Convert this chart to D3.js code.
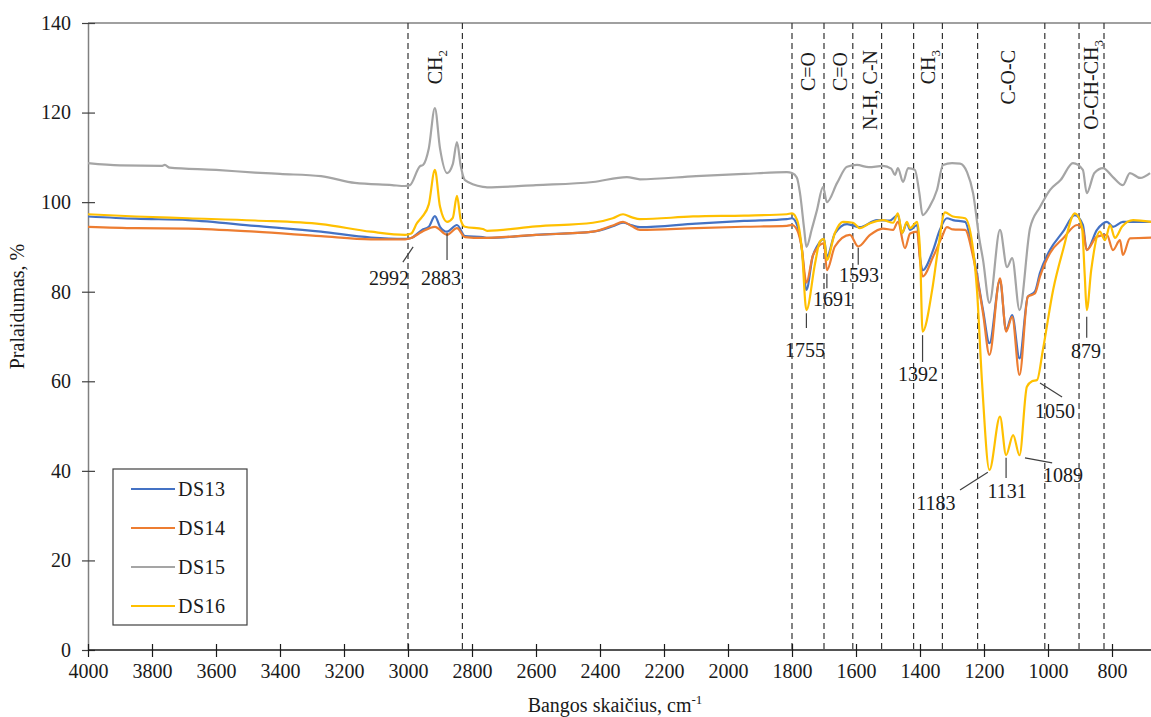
<!DOCTYPE html>
<html>
<head>
<meta charset="utf-8">
<script src="https://cdn.jsdelivr.net/npm/d3@7"></script>
<style>
  body { margin: 0; background: #fff; }
  svg, svg text { font-family: "Liberation Serif", "Times New Roman", serif; }
</style>
</head>
<body>
<div id="chart"></div>
<script>
// Spektrai: [bangos skaičius, pralaidumas]
const ds13 = [[4000,96.8],[3850,96.3],[3687,96.0],[3478,94.7],[3272,93.4],[3116,92.1],[3009,91.8],[2990,92.0],[2956,93.8],[2935,94.5],[2916,96.9],[2900,94.5],[2878,93.4],[2847,94.9],[2822,92.4],[2766,92.2],[2753,92.0],[2600,92.7],[2422,93.4],[2360,94.6],[2328,95.4],[2300,94.8],[2275,94.4],[2100,95.2],[1950,95.8],[1816,96.2],[1800,96.4],[1784,94.9],[1770,90],[1755,80.4],[1735,88],[1722,90.1],[1700,91.8],[1691,87.8],[1666,93.0],[1628,95.1],[1588,94.4],[1534,96.0],[1494,95.9],[1469,97.1],[1456,93.1],[1441,95.3],[1431,93.8],[1409,94.9],[1400,87.8],[1392,84.8],[1359,89.3],[1338,93.8],[1316,96.4],[1297,96.0],[1259,95.6],[1234,88.6],[1203,75.9],[1183,68.5],[1150,82.6],[1131,71.4],[1112,74.8],[1089,65.1],[1063,78.9],[1041,80.0],[1025,84.2],[994,89.3],[953,93.4],[916,97.1],[891,94.9],[879,89.3],[847,93.8],[816,95.6],[797,94.5],[766,95.6],[678,95.6]];

const ds14 = [[4000,94.5],[3850,94.2],[3687,94.1],[3478,93.4],[3272,92.4],[3116,91.7],[3009,91.7],[2990,92.0],[2956,93.4],[2916,94.5],[2878,92.7],[2847,94.2],[2822,92.2],[2766,92.0],[2600,92.7],[2422,93.4],[2360,94.8],[2328,95.6],[2300,94.6],[2275,93.8],[2100,94.2],[1950,94.5],[1816,94.7],[1800,94.9],[1784,93.8],[1770,90],[1755,82],[1735,88],[1722,89.7],[1700,90.8],[1691,84.8],[1666,90.1],[1619,92.7],[1593,90.1],[1556,92.7],[1516,94.1],[1484,93.8],[1469,95.6],[1447,89.7],[1431,93.0],[1409,93.4],[1400,87.1],[1392,83.4],[1359,87.8],[1331,92.3],[1316,94.4],[1297,93.9],[1259,93.8],[1234,87.8],[1203,75.2],[1183,65.9],[1150,83.0],[1131,71.1],[1112,74.4],[1089,61.4],[1063,78.9],[1041,79.6],[1025,83.4],[994,88.6],[953,91.9],[909,94.9],[891,93.8],[879,89.3],[847,92.3],[816,92.7],[797,89.3],[775,91.5],[766,88.2],[744,91.9],[678,92.1]];

const ds15 = [[4000,108.7],[3900,108.2],[3770,108.1],[3760,108.3],[3745,107.7],[3600,107.2],[3478,106.6],[3400,106.3],[3272,105.8],[3166,104.3],[3050,103.8],[3009,103.6],[2994,103.8],[2963,108.0],[2953,108.3],[2935,112],[2916,121.0],[2900,112],[2878,106.5],[2860,108.5],[2847,113.4],[2835,108],[2822,104.9],[2766,103.4],[2753,103.3],[2600,103.8],[2422,104.5],[2316,105.6],[2275,105.1],[2100,105.8],[1950,106.3],[1816,106.7],[1800,106.5],[1785,105.5],[1775,102],[1762,94],[1755,90.0],[1738,94],[1722,98.2],[1703,103.4],[1691,100.0],[1659,104.3],[1628,107.9],[1597,108.3],[1560,107.8],[1516,108.1],[1490,107.5],[1478,106.1],[1469,107.6],[1453,104.5],[1437,107.6],[1416,107.2],[1402,102],[1392,97.1],[1370,99],[1347,102.7],[1328,108.3],[1300,108.7],[1275,108.6],[1253,106.7],[1234,102],[1215,92],[1203,87.1],[1183,77.5],[1150,93.8],[1128,85.5],[1112,87.5],[1089,75.9],[1056,94.2],[1025,98.9],[994,102.7],[960,105],[922,108.7],[891,107.2],[879,102],[855,106.5],[828,107.6],[797,105.6],[766,103.8],[744,106.5],[712,105.4],[681,106.5]];

const ds16 = [[4000,97.3],[3850,96.8],[3687,96.4],[3478,95.9],[3272,95.1],[3116,93.4],[3009,92.7],[2990,93.0],[2972,95.3],[2956,96.7],[2935,99.5],[2916,107.2],[2900,99],[2878,95.6],[2860,96.5],[2847,101.4],[2835,96],[2822,94.5],[2766,94.0],[2753,93.6],[2600,94.6],[2422,95.4],[2360,96.4],[2328,97.3],[2300,96.6],[2275,96.2],[2109,96.8],[1950,97.0],[1816,97.3],[1800,97.5],[1784,96.0],[1769,89.3],[1755,75.9],[1728,86.3],[1713,91.2],[1700,91.8],[1691,87.1],[1666,93.1],[1641,95.6],[1609,95.4],[1588,94.2],[1556,95.3],[1516,96.0],[1484,95.4],[1469,97.5],[1456,93.1],[1441,95.6],[1431,94.2],[1409,95.6],[1400,89.3],[1392,71.1],[1362,80.4],[1344,89.3],[1322,97.7],[1297,96.8],[1259,96.4],[1237,90.9],[1222,80.4],[1206,59.6],[1183,40.2],[1150,52.1],[1131,43.5],[1109,48.0],[1089,43.5],[1066,58.8],[1050,60.0],[1034,60.3],[1016,67],[984,80.4],[953,89.3],[916,97.5],[894,94.5],[885,83.4],[879,75.9],[865,84.8],[838,93.4],[822,91.5],[806,94.9],[791,92.0],[769,94.5],[734,96.0],[678,95.6]];

const seriesNames = ["DS13", "DS14", "DS15", "DS16"];
const seriesData = [ds13, ds14, ds15, ds16];
const colors = ["#4472C4", "#ED7D31", "#A5A5A5", "#FFC000"];

const xTicks = [4000, 3800, 3600, 3400, 3200, 3000, 2800, 2600, 2400, 2200, 2000, 1800, 1600, 1400, 1200, 1000, 800];
const yTicks = [0, 20, 40, 60, 80, 100, 120, 140];

// Brūkšninės ribos
const bandLines = [3000, 2830, 1800, 1700, 1610, 1520, 1420, 1330, 1220, 1010, 903, 825];

// Grupių pavadinimai (wn – centras, sub – apatinis indeksas)
const groups = [
  { wn: 2915, main: "CH", sub: "2", top: 50 },
  { wn: 1750, main: "C=O", sub: "", top: 52 },
  { wn: 1650, main: "C=O", sub: "", top: 52 },
  { wn: 1557, main: "N-H, C-N", sub: "", top: 50 },
  { wn: 1375, main: "CH", sub: "3", top: 50 },
  { wn: 1125, main: "C-O-C", sub: "", top: 50 },
  { wn: 865, main: "O-CH-CH", sub: "3", top: 40 }
];

// Smailių žymės: tekstas, teksto vieta, linija
const peaks = [
  { t: "2992", x: 3059, y: 81.5, l: [2984, 90.0, 3016, 86.6] },
  { t: "2883", x: 2897, y: 81.5, l: [2878, 93.1, 2878, 87.1] },
  { t: "1755", x: 1759, y: 65.4, l: [1755, 75.2, 1755, 71.9] },
  { t: "1691", x: 1672, y: 76.8, l: [1691, 84.0, 1691, 80.8] },
  { t: "1593", x: 1591, y: 82.2, l: [1593, 89.8, 1593, 86.0] },
  { t: "1392", x: 1406, y: 60.1, l: [1392, 70.3, 1392, 64.3] },
  { t: "879", x: 881, y: 65.2, l: [879, 74.4, 879, 69.7] },
  { t: "1050", x: 978, y: 51.8, l: [1025, 59.6, 956, 56.5] },
  { t: "1089", x: 953, y: 37.5, l: [1072, 42.9, 987, 41.8] },
  { t: "1131", x: 1128, y: 33.9, l: [1131, 42.9, 1131, 38.4] },
  { t: "1183", x: 1350, y: 31.3, l: [1275, 35.7, 1188, 39.7] }
];

const W = 1151, H = 717;
const plot = { left: 88, top: 23, bottom: 650, right: 1151 };
const FONT = "Liberation Serif";

const svg = d3.select("#chart").append("svg")
  .attr("width", W).attr("height", H)
  .attr("font-family", FONT);

svg.append("rect").attr("width", W).attr("height", H).attr("fill", "#fff");

const x = d3.scaleLinear().domain([4000, 800]).range([plot.left, 1112]);
const y = d3.scaleLinear().domain([0, 140]).range([plot.bottom, plot.top]);

// Rėmas viršuje
svg.append("line")
  .attr("x1", plot.left).attr("x2", plot.right)
  .attr("y1", plot.top).attr("y2", plot.top)
  .attr("stroke", "#808080").attr("stroke-width", 1.5);

// Brūkšninės linijos
svg.selectAll(".band")
  .data(bandLines)
  .enter()
  .append("line")
  .attr("class", "band")
  .attr("x1", d => x(d)).attr("x2", d => x(d))
  .attr("y1", plot.top).attr("y2", plot.bottom)
  .attr("stroke", "#333").attr("stroke-width", 1.2)
  .attr("stroke-dasharray", "6,4");

// Y ašis
const yAxis = svg.append("g")
  .attr("transform", `translate(${plot.left},0)`)
  .call(d3.axisLeft(y).tickValues(yTicks).tickSize(0).tickPadding(17));
yAxis.attr("font-family", FONT).attr("font-size", 20);
yAxis.select(".domain").attr("stroke", "#808080").attr("stroke-width", 1.5);
yAxis.selectAll("text").attr("fill", "#1a1a1a");
yAxis.selectAll(".tick").append("line")
  .attr("x1", -6).attr("x2", 7).attr("stroke", "#404040").attr("stroke-width", 1.2);

// X ašis
const xAxis = svg.append("g")
  .attr("transform", `translate(0,${plot.bottom})`)
  .call(d3.axisBottom(x).tickValues(xTicks).tickFormat(d3.format("d")).tickSize(0).tickPadding(14));
xAxis.attr("font-family", FONT).attr("font-size", 20);
xAxis.select(".domain").remove();
xAxis.append("line")
  .attr("x1", plot.left).attr("x2", plot.right)
  .attr("stroke", "#1a1a1a").attr("stroke-width", 1.3);
xAxis.selectAll("text").attr("fill", "#1a1a1a");
xAxis.selectAll(".tick").append("line")
  .attr("y1", -6).attr("y2", 7).attr("stroke", "#1a1a1a").attr("stroke-width", 1.2);

// Kreivės
const line = d3.line()
  .x(d => x(d[0]))
  .y(d => y(d[1]))
  .curve(d3.curveMonotoneX);

svg.append("g")
  .selectAll("path")
  .data(seriesData)
  .enter()
  .append("path")
  .attr("d", d => line(d.slice().sort((a, b) => b[0] - a[0])))
  .attr("fill", "none")
  .attr("stroke", (d, i) => colors[i])
  .attr("stroke-width", 2.2)
  .attr("stroke-linejoin", "round");

// Grupių pavadinimai
const gl = svg.selectAll(".grp")
  .data(groups)
  .enter()
  .append("text")
  .attr("class", "grp")
  .attr("transform", d => `translate(${x(d.wn)},${d.top}) rotate(-90)`)
  .attr("text-anchor", "end")
  .attr("dy", "0.35em")
  .attr("font-size", "20px")
  .attr("fill", "#1a1a1a");
gl.append("tspan").text(d => d.main);
gl.append("tspan")
  .attr("font-size", "13px")
  .attr("dy", "5")
  .text(d => d.sub);

// Smailių žymės
svg.selectAll(".pk-line")
  .data(peaks)
  .enter()
  .append("line")
  .attr("x1", d => x(d.l[0])).attr("y1", d => y(d.l[1]))
  .attr("x2", d => x(d.l[2])).attr("y2", d => y(d.l[3]))
  .attr("stroke", "#404040").attr("stroke-width", 1.2);

svg.selectAll(".pk")
  .data(peaks)
  .enter()
  .append("text")
  .attr("x", d => x(d.x))
  .attr("y", d => y(d.y))
  .attr("text-anchor", "middle")
  .attr("font-size", "20px")
  .attr("fill", "#1a1a1a")
  .text(d => d.t);

// Legenda
const lg = svg.append("g").attr("transform", "translate(113,469)");
lg.append("rect")
  .attr("width", 134).attr("height", 156)
  .attr("fill", "#fff").attr("stroke", "#404040").attr("stroke-width", 1.2);
const items = lg.selectAll(".item")
  .data(seriesNames)
  .enter()
  .append("g")
  .attr("transform", (d, i) => `translate(0,${20 + i * 39})`);
items.append("line")
  .attr("x1", 18).attr("x2", 62)
  .attr("stroke", (d, i) => colors[i]).attr("stroke-width", 2.2);
items.append("text")
  .attr("x", 65).attr("dy", "0.35em")
  .attr("font-size", "20px").attr("fill", "#1a1a1a")
  .attr("letter-spacing", "0.5")
  .text(d => d);

// Ašių pavadinimai
svg.append("text")
  .attr("transform", `translate(24,${(plot.top + plot.bottom) / 2 - 30}) rotate(-90)`)
  .attr("text-anchor", "middle")
  .attr("font-size", "20px").attr("fill", "#1a1a1a")
  .text("Pralaidumas, %");

const xt = svg.append("text")
  .attr("x", 615).attr("y", 712)
  .attr("text-anchor", "middle")
  .attr("font-size", "20px").attr("fill", "#1a1a1a");
xt.append("tspan").text("Bangos skaičius, cm");
xt.append("tspan").attr("font-size", "13px").attr("dy", "-8").text("-1");
</script>
</body>
</html>
